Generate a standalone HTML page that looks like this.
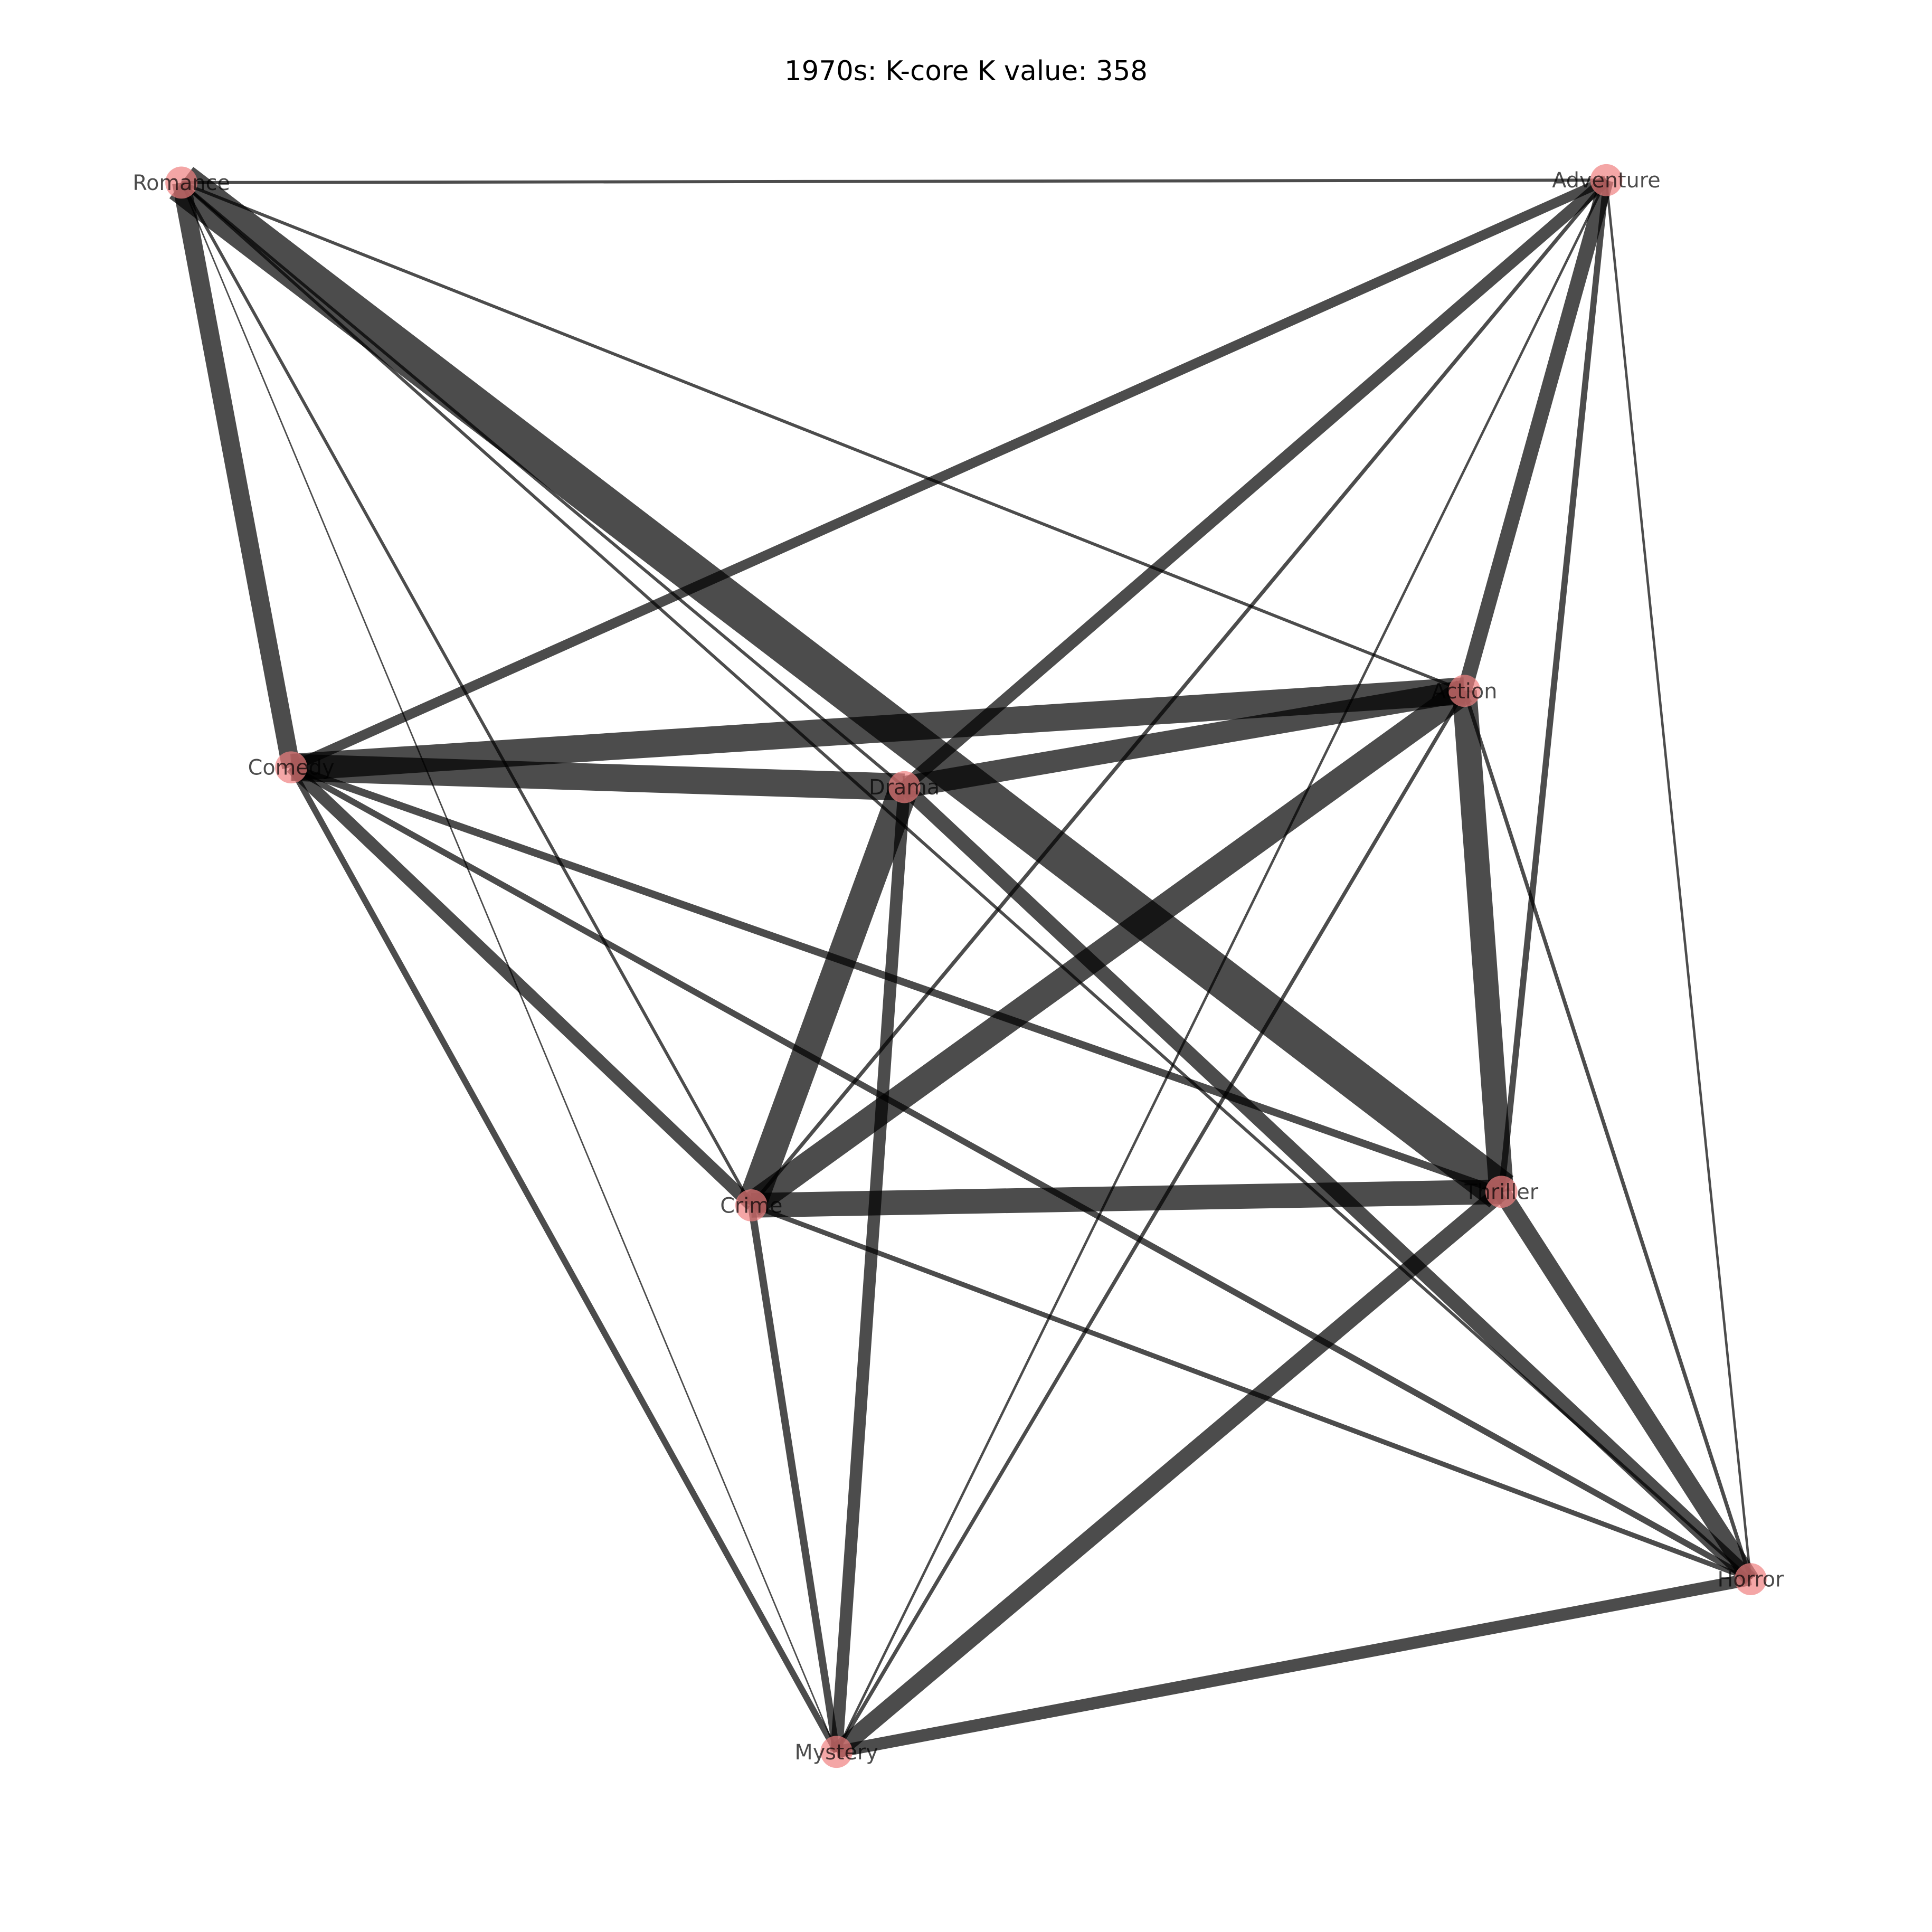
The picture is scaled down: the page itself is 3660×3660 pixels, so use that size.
<!DOCTYPE html>
<html><head><meta charset="utf-8"><style>
html,body{margin:0;padding:0;background:#fff;}
svg{display:block;}
</style></head><body>
<svg id="chart" width="3660" height="3660" viewBox="0 0 1566 1566" xmlns="http://www.w3.org/2000/svg">
<rect width="1566" height="1566" fill="#fff"/>
<text x="783" y="65" text-anchor="middle" font-family="DejaVu Sans, sans-serif" font-size="22" fill="#000">1970s: K-core K value: 358</text>
<g id="edges"></g>
<g id="nodes"></g>
</svg>
<script>
const nodeNames = ["Romance","Adventure","Action","Comedy","Drama","Crime","Thriller","Horror","Mystery"];
const nodeX = [147,1302,1187,236,733,609,1217,1419,678];
const nodeY = [148,146,560,622,638,977,966,1280,1420];
const edgeSource = ["Romance","Romance","Romance","Romance","Romance","Romance","Romance","Romance","Comedy","Comedy","Comedy","Comedy","Comedy","Comedy","Comedy","Drama","Drama","Drama","Drama","Drama","Action","Action","Action","Action","Action","Adventure","Adventure","Adventure","Adventure","Crime","Crime","Crime","Thriller","Thriller","Mystery"];
const edgeTarget = ["Adventure","Comedy","Thriller","Action","Crime","Mystery","Horror","Drama","Action","Drama","Adventure","Crime","Mystery","Thriller","Horror","Action","Adventure","Crime","Mystery","Horror","Adventure","Crime","Thriller","Mystery","Horror","Thriller","Crime","Mystery","Horror","Thriller","Mystery","Horror","Horror","Mystery","Horror"];
const edgeWeight = [2.5,15,32,2.5,2.5,1.2,2.5,2.5,22,22,8,10,5,6,5,18,10,24,10,12,12,21,20,3,3,5,3,2,2,20,6,4,14,14,10];
const NS="http://www.w3.org/2000/svg";
const eg=document.getElementById('edges'), ng=document.getElementById('nodes');
function px(n){return nodeX[nodeNames.indexOf(n)];}
function py(n){return nodeY[nodeNames.indexOf(n)];}
for(let i=0;i<edgeSource.length;i++){
  if(edgeWeight[i]<=0) continue;
  const l=document.createElementNS(NS,'line');
  l.setAttribute('x1',px(edgeSource[i]));l.setAttribute('y1',py(edgeSource[i]));
  l.setAttribute('x2',px(edgeTarget[i]));l.setAttribute('y2',py(edgeTarget[i]));
  l.setAttribute('stroke','#000');l.setAttribute('stroke-opacity','0.7');
  l.setAttribute('stroke-width',edgeWeight[i]);
  
  
  eg.appendChild(l);
}
for(let i=0;i<nodeNames.length;i++){
  const c=document.createElementNS(NS,'circle');
  c.setAttribute('cx',nodeX[i]);c.setAttribute('cy',nodeY[i]);c.setAttribute('r',13);
  c.setAttribute('fill','#f08080');c.setAttribute('fill-opacity','0.7');
  
  
  ng.appendChild(c);
  const t=document.createElementNS(NS,'text');
  t.setAttribute('x',nodeX[i]);t.setAttribute('y',nodeY[i]+6);
  t.setAttribute('text-anchor','middle');
  t.setAttribute('font-family','DejaVu Sans, sans-serif');
  t.setAttribute('font-size','17');t.setAttribute('fill','#000');t.setAttribute('fill-opacity','0.7');
  t.textContent=nodeNames[i];
  
  
  ng.appendChild(t);
}
</script>
</body></html>
